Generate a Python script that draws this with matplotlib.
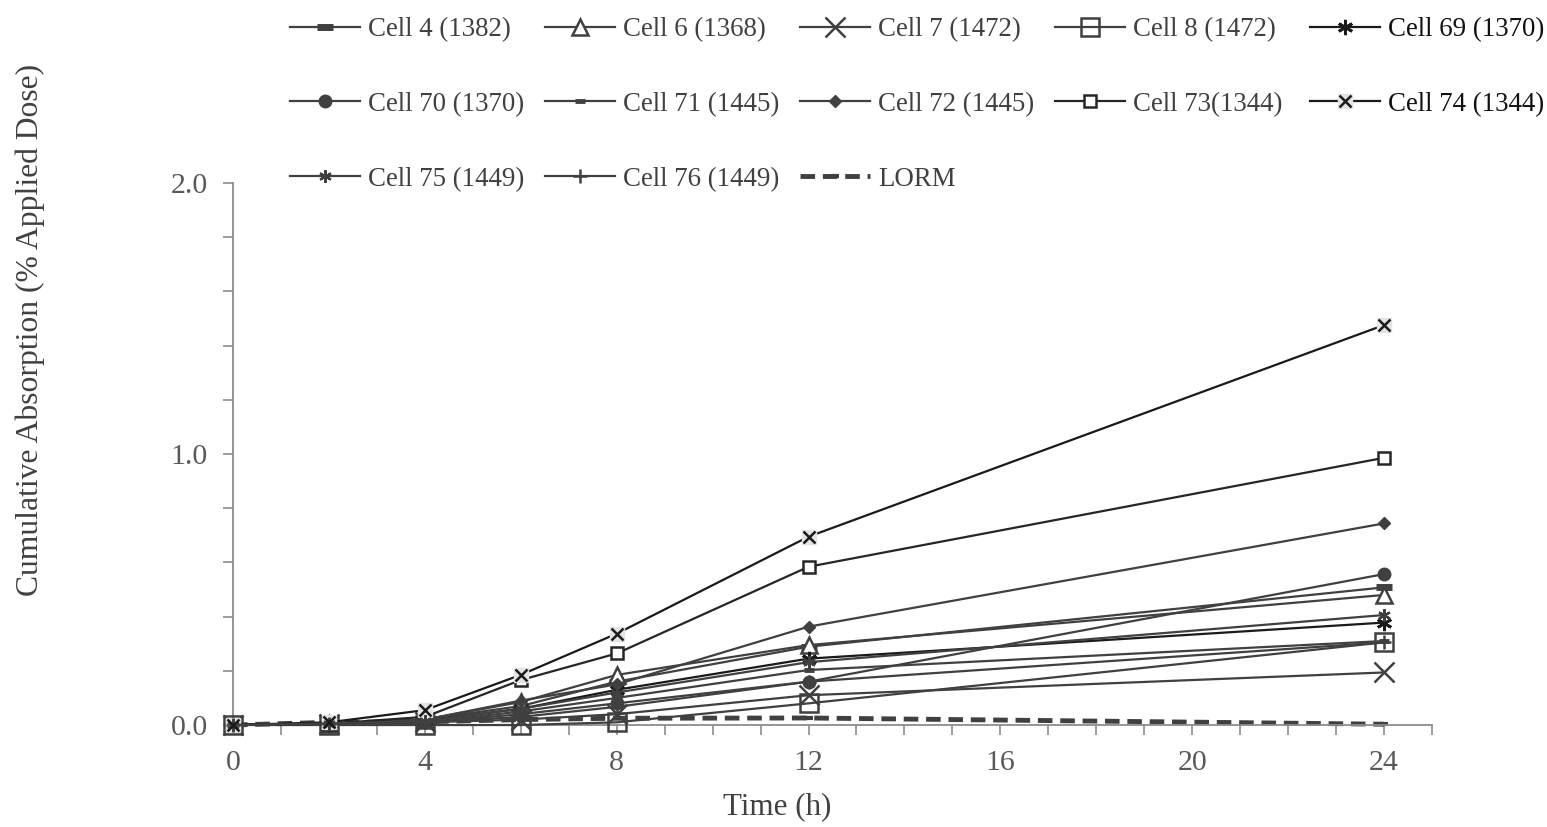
import matplotlib.pyplot as plt
from matplotlib.ticker import MultipleLocator, FormatStrFormatter
from matplotlib.legend_handler import HandlerTuple

plt.rcParams['font.family'] = ['Liberation Serif', 'DejaVu Serif']

# sampling times (h)
hours = [0, 2, 4, 6, 8, 12, 24]

# cumulative absorption (% applied dose)
cell_4 = [0.0, 0.005, 0.02, 0.07, 0.16, 0.289, 0.508]
cell_6 = [0.0, 0.005, 0.02, 0.085, 0.185, 0.295, 0.48]
cell_7 = [0.0, 0.005, 0.01, 0.02, 0.04, 0.11, 0.194]
cell_8 = [0.0, 0.0, 0.0, 0.0, 0.01, 0.08, 0.305]
cell_69 = [0.0, 0.005, 0.015, 0.06, 0.13, 0.245, 0.378]
cell_70 = [0.0, 0.005, 0.01, 0.04, 0.08, 0.16, 0.557]
cell_71 = [0.0, 0.005, 0.01, 0.05, 0.10, 0.203, 0.31]
cell_72 = [0.0, 0.005, 0.02, 0.09, 0.15, 0.363, 0.744]
cell_73 = [0.0, 0.005, 0.03, 0.166, 0.264, 0.584, 0.986]
cell_74 = [0.0, 0.01, 0.055, 0.185, 0.337, 0.695, 1.476]
cell_75 = [0.0, 0.005, 0.015, 0.06, 0.12, 0.232, 0.406]
cell_76 = [0.0, 0.005, 0.01, 0.03, 0.067, 0.16, 0.305]
lorm = [0.0, 0.01, 0.012, 0.02, 0.025, 0.026, 0.003]

grey = '#404040'

fig = plt.figure(figsize=(15.47, 8.27), dpi=100)
ax = fig.add_axes([0.1506, 0.1233, 0.7751, 0.6554])

h = {}
kw = dict(color=grey, lw=1.6, clip_on=False, zorder=3)
h['Cell 4 (1382)'], = ax.plot(hours, cell_4, marker='_', ms=12, mew=5, **kw)
h['Cell 6 (1368)'], = ax.plot(hours, cell_6, marker='^', ms=12, mfc='white', mew=1.8, **kw)
h['Cell 7 (1472)'], = ax.plot(hours, cell_7, marker='x', ms=14, mew=1.8, **kw)
h['Cell 8 (1472)'], = ax.plot(hours, cell_8, marker='s', ms=13, mfc='none', mew=1.8, **kw)
h['Cell 69 (1370)'], = ax.plot(hours, cell_69, marker=(6, 2, 0), ms=11, mew=2, color='#1a1a1a', lw=1.6,
                               clip_on=False, zorder=3)
h['Cell 70 (1370)'], = ax.plot(hours, cell_70, marker='o', ms=9, **kw)
h['Cell 71 (1445)'], = ax.plot(hours, cell_71, marker='_', ms=7, mew=3.5, **kw)
h['Cell 72 (1445)'], = ax.plot(hours, cell_72, marker='D', ms=6, **kw)
h['Cell 73(1344)'], = ax.plot(hours, cell_73, marker='s', ms=9, mfc='white', mew=1.8, color='#262626', lw=1.6,
                              clip_on=False, zorder=3)
bg74, = ax.plot(hours, cell_74, marker='s', ms=10, mfc='#e4e4e4', mec='#e4e4e4', color='#1a1a1a', lw=1.6,
                clip_on=False, zorder=3)
fg74, = ax.plot(hours, cell_74, marker='x', ms=8, mew=1.8, color='#1a1a1a', ls='none', clip_on=False, zorder=4)
h['Cell 74 (1344)'] = (bg74, fg74)
h['Cell 75 (1449)'], = ax.plot(hours, cell_75, marker=(6, 2, 0), ms=9, mew=1.6, **kw)
h['Cell 76 (1449)'], = ax.plot(hours, cell_76, marker='+', ms=10, mew=1.8, **kw)
h['LORM'], = ax.plot(hours, lorm, color=grey, lw=3.5, ls=(0, (3, 1.6)), marker='_', ms=6, mew=3,
                     clip_on=False, zorder=2)

ax.set_xlim(0, 25)
ax.set_ylim(0, 2)
ax.xaxis.set_major_locator(MultipleLocator(4))
ax.xaxis.set_minor_locator(MultipleLocator(1))
ax.yaxis.set_major_locator(MultipleLocator(1))
ax.yaxis.set_minor_locator(MultipleLocator(0.2))
ax.yaxis.set_major_formatter(FormatStrFormatter('%.1f'))

for s in ['top', 'right']:
    ax.spines[s].set_visible(False)
for s in ['left', 'bottom']:
    ax.spines[s].set_color('#8c8c8c')
    ax.spines[s].set_linewidth(1.3)

ax.tick_params(which='both', direction='out', length=7, width=1.2, color='#8c8c8c')
ax.tick_params(axis='y', labelsize=21.5, labelcolor='#595959', pad=11)
ax.tick_params(axis='x', labelsize=21.5, labelcolor='#595959', pad=11)

fig.text(30 / 1547, 1 - 330 / 827, 'Cumulative Absorption (% Applied Dose)', rotation=90,
         ha='center', va='center', fontsize=22.8, color=grey)
fig.text(777 / 1547, 1 - 807 / 827, 'Time (h)', ha='center', va='center', fontsize=22.3, color=grey)

# legend in equal-width columns, like the original
columns = [['Cell 4 (1382)', 'Cell 70 (1370)', 'Cell 75 (1449)'],
           ['Cell 6 (1368)', 'Cell 71 (1445)', 'Cell 76 (1449)'],
           ['Cell 7 (1472)', 'Cell 72 (1445)', 'LORM'],
           ['Cell 8 (1472)', 'Cell 73(1344)'],
           ['Cell 69 (1370)', 'Cell 74 (1344)']]
for i, col in enumerate(columns):
    leg = fig.legend([h[k] for k in col], col, loc='upper left',
                     bbox_to_anchor=((290 + 255 * i) / 1547, 1 - 17 / 827), frameon=False,
                     fontsize=19.4, handlelength=2.6, handletextpad=0.3,
                     labelspacing=1.85, borderpad=0, borderaxespad=0,
                     handler_map={tuple: HandlerTuple(ndivide=1)})
    for t in leg.get_texts():
        t.set_color('#111111' if t.get_text() in ('Cell 69 (1370)', 'Cell 74 (1344)') else grey)

fig.savefig('out.png', dpi=100)
